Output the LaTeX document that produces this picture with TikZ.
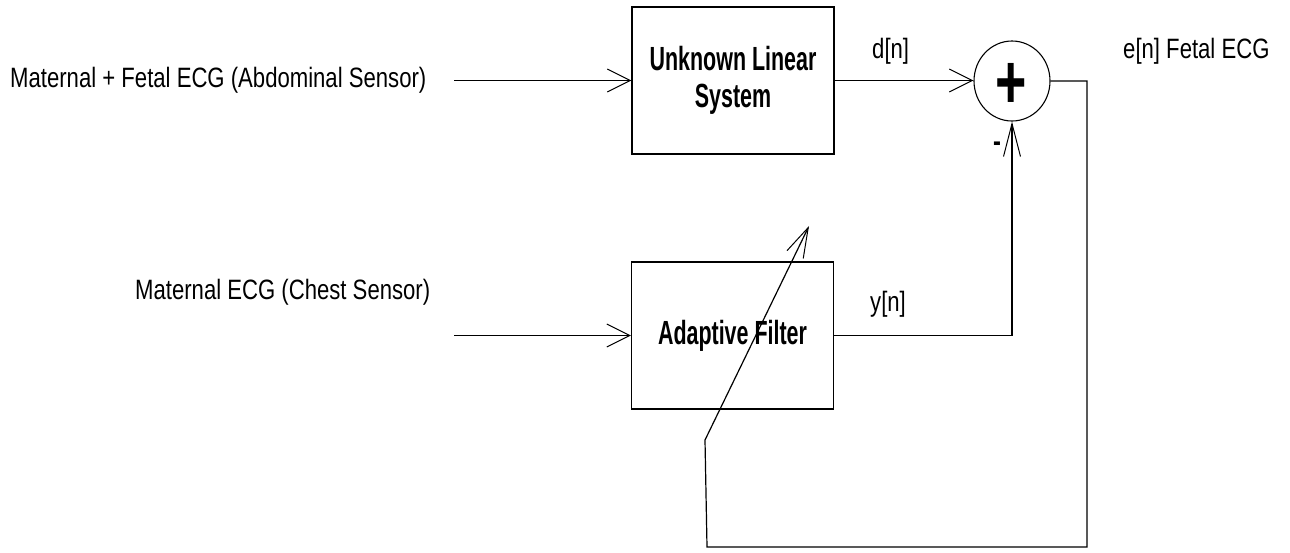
\documentclass[tikz,border=0pt]{standalone}
\usepackage{fontspec}
\setmainfont{Liberation Sans}[FakeStretch=0.79]
\newfontfamily\boldnarrow{Liberation Sans}[FakeStretch=0.64]
\usetikzlibrary{arrows.meta,shapes.geometric}
\tikzset{
  lbl/.style={font=\fontsize{28}{30}\selectfont, inner sep=0pt, anchor=base west},
  blockbox/.style={draw, line width=1.2pt, rectangle, minimum width=202pt, minimum height=147pt,
    align=center, inner sep=0pt, font=\fontsize{33.5}{37}\boldnarrow\bfseries},
  sumnode/.style={draw, line width=1.1pt, ellipse, minimum width=76pt, minimum height=80pt, inner sep=0pt},
  wire/.style={line width=1.2pt},
  harr/.style={wire, -{Straight Barb[length=23pt,width=23pt,line width=1pt]}},
  varr/.style={wire, -{Straight Barb[length=33pt,width=17pt,line width=1pt]}},
  darr/.style={wire, -{Straight Barb[length=30pt,width=18pt,line width=1pt]}}
}
\begin{document}
\begin{tikzpicture}[x=1pt,y=-1pt]
\useasboundingbox (0,0) rectangle (1290,552);
% blocks
\node[blockbox] (uls) at (733,80.5) {Unknown Linear\\System};
\node[blockbox] (af) at (732.5,335.5) {Adaptive Filter};
\node[sumnode] (sum) at (1012,81) {};
\node[font=\fontsize{68}{68}\selectfont\bfseries, inner sep=0pt] (plus) at (1011,86) {\scalebox{1}[1.13]{+}};
% labels
\node[lbl] (in1) at (10,87) {Maternal + Fetal ECG (Abdominal Sensor)};
\node[lbl] (in2) at (135,299) {Maternal ECG (Chest Sensor)};
\node[lbl] (dn) at (872,58) {d[n]};
\node[lbl] (yn) at (870,311) {y[n]};
\node[lbl] (en) at (1123,58) {e[n] Fetal ECG};
\node[font=\fontsize{30}{30}\selectfont\bfseries, inner sep=0pt] (minus) at (997,147) {-};
% coordinates
\coordinate (a1) at (454,80.5);
\coordinate (a2) at (454,335.5);
\coordinate (fbR) at (1087,547);
\coordinate (fbL) at (707,547);
\coordinate (fbB) at (705,440);
\coordinate (fbT) at (809,226);
% connectors
\draw[harr] (a1) -- (uls.west);
\draw[harr] (a2) -- (af.west);
\draw[harr] (uls.east) -- (sum.west |- uls.east);
\draw[varr] (af.east) -| (sum.south);
\draw[darr] (sum.east) -| (fbR) -- (fbL) -- (fbB) -- (fbT);
\end{tikzpicture}
\end{document}
